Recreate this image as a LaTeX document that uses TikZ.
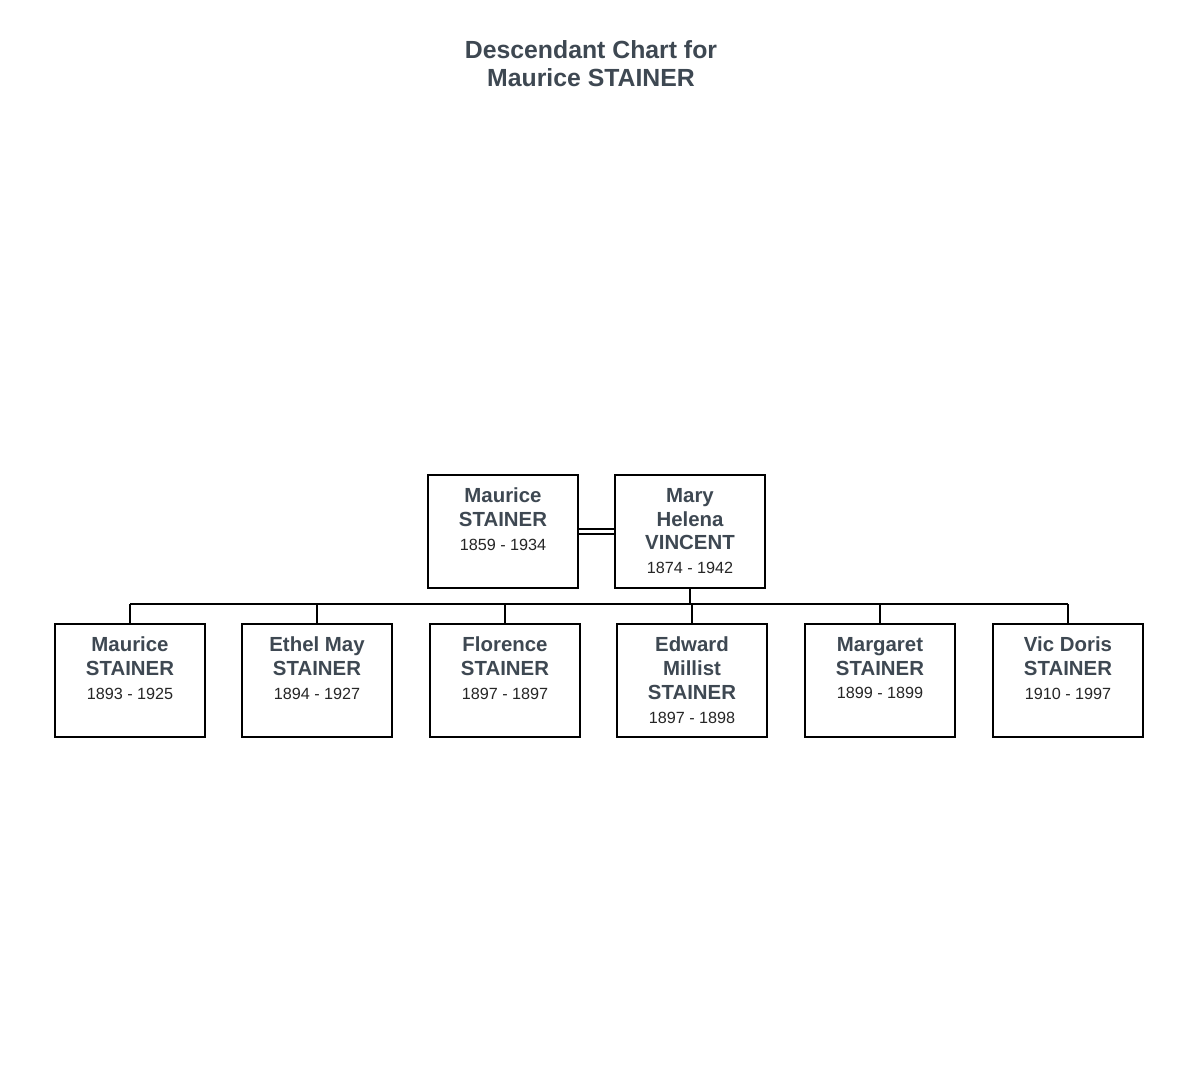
\documentclass[tikz,border=0pt]{standalone}
\usepackage{fontspec}
\setmainfont{Liberation Sans}
\usepackage{tikz}

\definecolor{namegrey}{HTML}{3E4852}
\definecolor{dategrey}{HTML}{262626}

% box text: name lines in bold grey, dates below
\newcommand{\who}[2]{\parbox[c][56.5pt][t]{75pt}{\centering\vspace*{6.6pt}%
{\color{namegrey}\bfseries\fontsize{10.2}{11.9}\selectfont #1\par}%
{\color{dategrey}\fontsize{8.1}{11.9}\selectfont #2\par}}}

\begin{document}
\begin{tikzpicture}[x=0.5pt,y=-0.5pt]
\tikzstyle{person}=[draw,line width=1pt,inner sep=0pt,anchor=north];
\tikzstyle{link}=[line width=0.8pt];
\useasboundingbox[fill=white] (0,0) rectangle (1191,1073);

\node[align=center,text=namegrey,font=\bfseries\fontsize{12.4}{14}\selectfont] (title) at (591,64)
	{Descendant Chart for\\Maurice STAINER};

% parents
\node[person] (father) at (503,474) {\who{Maurice\\STAINER}{1859 - 1934}};
\node[person] (mother) at (690,474) {\who{Mary\\Helena\\VINCENT}{1874 - 1942}};
\draw[link,double,double distance=1.6pt] (father) -- (mother);

% children
\node[person] (c1) at (130,623) {\who{Maurice\\STAINER}{1893 - 1925}};
\node[person] (c2) at (317,623) {\who{Ethel May\\STAINER}{1894 - 1927}};
\node[person] (c3) at (505,623) {\who{Florence\\STAINER}{1897 - 1897}};
\node[person] (c4) at (692,623) {\who{Edward\\Millist\\STAINER}{1897 - 1898}};
\node[person] (c5) at (880,623) {\who{Margaret\\STAINER}{1899 - 1899}};
\node[person] (c6) at (1068,623) {\who{Vic Doris\\STAINER}{1910 - 1997}};

\coordinate (bus) at (0,604);
\draw[link] (mother.south) -- (mother.south |- bus);
\draw[link] (c1.north |- bus) -- (c6.north |- bus);
\draw[link] (c1.north) -- (c1.north |- bus);
\draw[link] (c2.north) -- (c2.north |- bus);
\draw[link] (c3.north) -- (c3.north |- bus);
\draw[link] (c4.north) -- (c4.north |- bus);
\draw[link] (c5.north) -- (c5.north |- bus);
\draw[link] (c6.north) -- (c6.north |- bus);
\end{tikzpicture}
\end{document}
